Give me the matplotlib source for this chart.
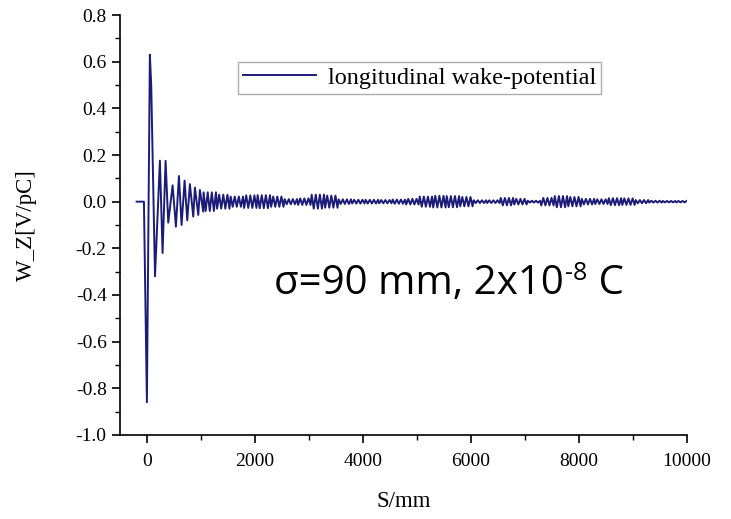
import matplotlib
matplotlib.use("Agg")
import matplotlib.pyplot as plt
import numpy as np
from matplotlib.ticker import MultipleLocator, FormatStrFormatter

plt.rcParams['axes.unicode_minus'] = False

# early part of the wake: extrema (S in mm, W in V/pC)
s_head = [-190, -55, 0, 55, 80, 150, 241, 290, 346, 395, 476, 537, 593,
          642, 698, 747, 796, 858, 889, 951, 981, 1043]
w_head = [0.0, 0.0, -0.86, 0.63, 0.50, -0.32, 0.176, -0.22, 0.175, -0.09,
          0.07, -0.107, 0.11, -0.10, 0.09, -0.08, 0.075, -0.064, 0.06,
          -0.057, 0.05, -0.043]

# tail ringing: amplitude read per 250 mm bin, starting at 1050 mm
tail_start = 1050
bin_width = 250
ring_period = 76
tail_amp = [0.04, 0.03, 0.022, 0.027, 0.028, 0.022, 0.011, 0.014, 0.03,
            0.026, 0.01, 0.008, 0.008, 0.007, 0.009, 0.012, 0.022, 0.025,
            0.024, 0.02, 0.006, 0.006, 0.016, 0.012, 0.004, 0.016, 0.024,
            0.02, 0.012, 0.01, 0.015, 0.014, 0.007, 0.004, 0.003, 0.003,
            0.009, 0.01]

# build the tail zigzag from the bin amplitudes
s_tail, w_tail = [], []
sign = 1
for i, a in enumerate(tail_amp):
    start = tail_start + i * bin_width
    for s in np.arange(start, start + bin_width, ring_period / 2):
        if s > 10000:
            break
        s_tail.append(s)
        w_tail.append(sign * a)
        sign = -sign

s_all = np.array(s_head + s_tail)
w_all = np.array(w_head + w_tail)

fig = plt.figure(figsize=(7.31, 5.19), dpi=100)
ax = fig.add_axes([0.164, 0.162, 0.776, 0.809])

ax.plot(s_all, w_all, color="#1c1c78", linewidth=1.4,
        label="longitudinal wake-potential")

ax.set_xlim(-500, 10000)
ax.set_ylim(-1.0, 0.8)
ax.xaxis.set_major_locator(MultipleLocator(2000))
ax.xaxis.set_minor_locator(MultipleLocator(1000))
ax.yaxis.set_major_locator(MultipleLocator(0.2))
ax.yaxis.set_minor_locator(MultipleLocator(0.1))
ax.yaxis.set_major_formatter(FormatStrFormatter('%.1f'))

for side in ['top', 'right']:
    ax.spines[side].set_visible(False)
for side in ['left', 'bottom']:
    ax.spines[side].set_linewidth(1.2)

ax.tick_params(which='major', direction='out', length=6, width=1.2,
               labelsize=14)
ax.tick_params(axis='x', which='major', pad=7)
ax.tick_params(which='minor', direction='out', length=3.5, width=1.0)
for lbl in ax.get_xticklabels() + ax.get_yticklabels():
    lbl.set_family("Liberation Serif")

ax.set_xlabel("S/mm", family="Liberation Serif", fontsize=16.5, labelpad=15)
ax.set_ylabel("W_Z[V/pC]", family="Liberation Serif", fontsize=16.5,
              labelpad=28)

leg = ax.legend(loc='upper left', bbox_to_anchor=(0.208, 0.888),
                borderaxespad=0, fancybox=False, handlelength=3.0,
                prop={'family': 'Liberation Serif', 'size': 17.5},
                borderpad=0.2, handletextpad=0.5)
leg.get_frame().set_edgecolor('#999999')
leg.get_frame().set_linewidth(1.0)

# annotation with a small raised "-8"
t1 = ax.text(0.272, 0.335, "σ=90 mm, 2x10", transform=ax.transAxes,
             fontsize=29, family="Open Sans")
t2 = ax.annotate("-8", xy=(1, 1), xycoords=t1, xytext=(1, 2),
                 textcoords="offset points", va="top", ha="left",
                 fontsize=18, family="Open Sans")
ax.annotate(" C", xy=(1, 0), xycoords=(t2, t1), xytext=(0, 0),
            textcoords="offset points", va="bottom", ha="left",
            fontsize=29, family="Open Sans")

fig.savefig("out.png", dpi=100)
